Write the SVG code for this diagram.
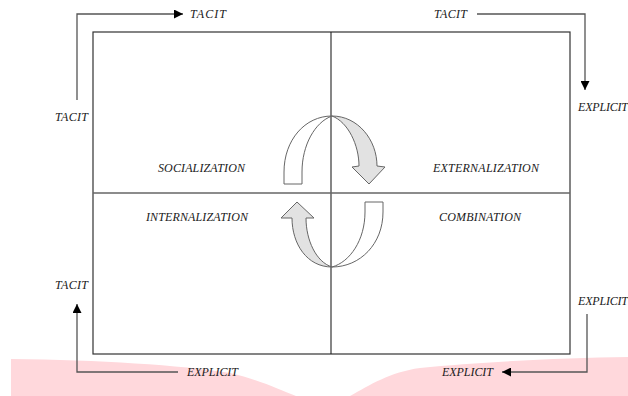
<svg xmlns="http://www.w3.org/2000/svg" width="628" height="396" viewBox="0 0 628 396">
<style>
.lbl{font-family:"Liberation Serif","Times New Roman",serif;font-style:italic;font-size:12px;fill:#1a1a1a}
.con{fill:none;stroke:#555;stroke-width:1.3}
.frame{fill:none;stroke:#333;stroke-width:1.2}
.band{stroke:#666;stroke-width:1;stroke-linejoin:round}
</style>
<defs>
<marker id="ah" viewBox="0 0 10 10" refX="10" refY="5" markerWidth="9" markerHeight="9" markerUnits="userSpaceOnUse" orient="auto">
<path d="M0,0 L10,5 L0,10 Z" fill="#000"/>
</marker>
</defs>
<rect width="628" height="396" fill="#fff"/>
<g id="background">
<path d="M11,359 C100,360 180,365 230,373 C260,380 280,390 296,396 L11,396 Z" fill="#ffd8dc"/>
<path d="M350,396 C370,385 390,372 420,368 C480,362 560,358 628,357 L628,396 Z" fill="#ffd8dc"/>
</g>
<g id="matrix">
<rect class="frame" x="93" y="32" width="477" height="322"/>
<line x1="331" y1="32" x2="331" y2="354" stroke="#222" stroke-width="1.1"/>
<line x1="93" y1="193" x2="570" y2="193" stroke="#666" stroke-width="1.3"/>
</g>
<g id="cycle-top">
<path class="band" fill="#fff" d="M284,184 L284,172 C284,140 305,116 332,116 C315,122 302,145 302,172 L302,184 Z"/>
<path class="band" fill="#e2e2e2" d="M332,116 C358,116 377,140 377,166 L385,167 L369,184 L352,167 L359,166 C359,145 348,122 332,116 Z"/>
</g>
<g id="cycle-bottom">
<path class="band" fill="#fff" d="M383,202 L383,212 C383,244 360,267 332,267 C350,262 365,240 365,212 L365,202 Z"/>
<path class="band" fill="#e2e2e2" d="M332,267 C307,267 292,244 292,218 L281,218 L297,202 L314,218 L306,218 C306,240 316,262 332,267 Z"/>
</g>
<g id="connectors">
<path class="con" d="M77,100 L77,14 L183,14" marker-end="url(#ah)"/>
<path class="con" d="M477,14 L585,14 L585,90" marker-end="url(#ah)"/>
<path class="con" d="M178,372 L77,372 L77,304" marker-end="url(#ah)"/>
<path class="con" d="M587,314 L587,372 L502,372" marker-end="url(#ah)"/>
</g>
<g id="labels">
<text class="lbl" x="190" y="18" textLength="36">TACIT</text>
<text class="lbl" x="434" y="18" textLength="33">TACIT</text>
<text class="lbl" x="55" y="121" textLength="33">TACIT</text>
<text class="lbl" x="578" y="111" textLength="50">EXPLICIT</text>
<text class="lbl" x="55" y="289" textLength="33">TACIT</text>
<text class="lbl" x="578" y="305" textLength="50">EXPLICIT</text>
<text class="lbl" x="187" y="376" textLength="51">EXPLICIT</text>
<text class="lbl" x="442" y="376" textLength="51">EXPLICIT</text>
<text class="lbl" x="158" y="172" textLength="87">SOCIALIZATION</text>
<text class="lbl" x="433" y="172" textLength="106">EXTERNALIZATION</text>
<text class="lbl" x="146" y="221" textLength="102">INTERNALIZATION</text>
<text class="lbl" x="439" y="221" textLength="82">COMBINATION</text>
</g>
</svg>
